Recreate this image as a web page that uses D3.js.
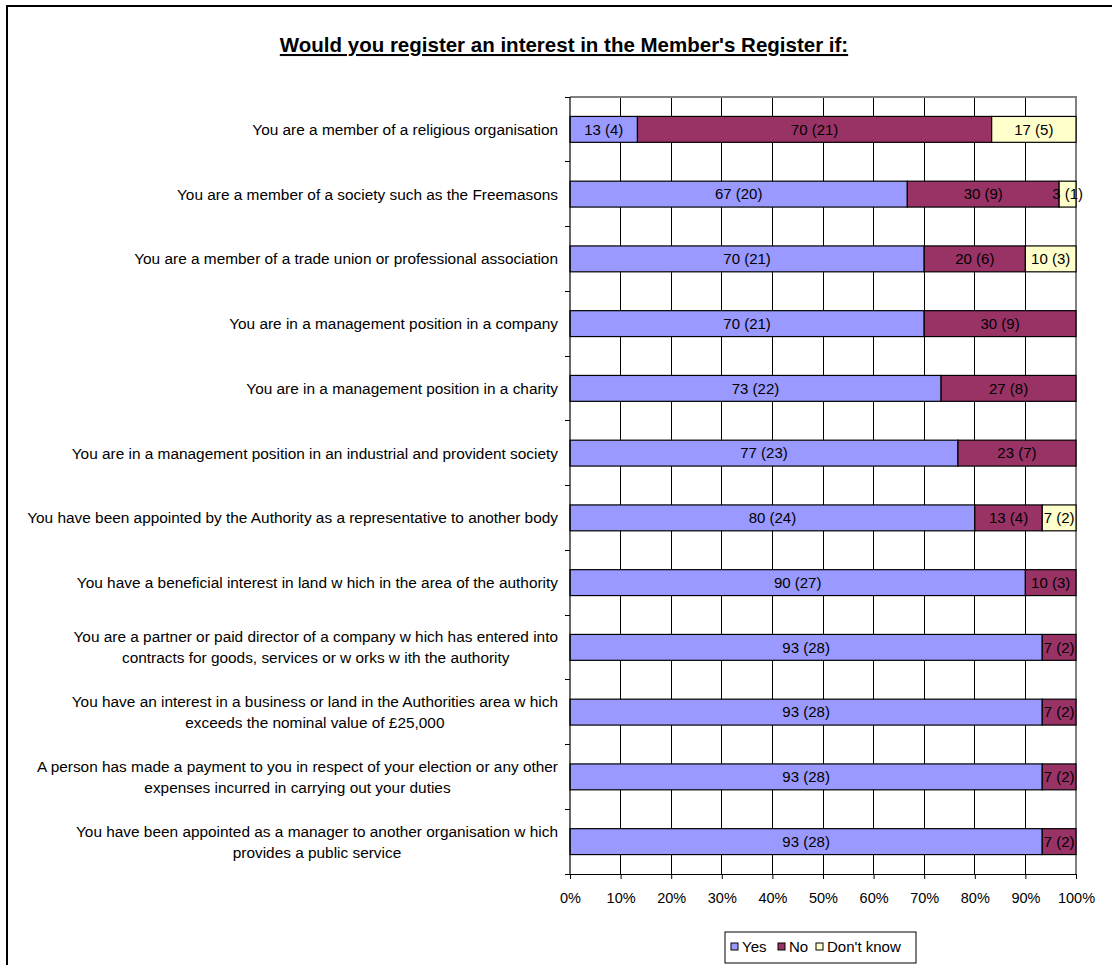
<!DOCTYPE html>
<html>
<head>
<meta charset="utf-8">
<script src="https://cdn.jsdelivr.net/npm/d3@7"></script>
<style>
  body { margin: 0; background: #fff; }
  svg { display: block; font-family: "Liberation Sans", Arial, sans-serif; }
</style>
</head>
<body>
<div id="chart"></div>
<script>
var categories = [
  ["You are a member of a religious organisation"],
  ["You are a member of a society such as the Freemasons"],
  ["You are a member of a trade union or professional association"],
  ["You are in a management position in a company"],
  ["You are in a management position in a charity"],
  ["You are in a management position in an industrial and provident society"],
  ["You have been appointed by the Authority as a representative to another body"],
  ["You have a beneficial interest in land w hich in the area of the authority"],
  ["You are a partner or paid director of a company w hich has entered into", "contracts for goods, services or w orks w ith the authority"],
  ["You have an interest in a business or land in the Authorities area w hich", "exceeds the nominal value of \u00a325,000"],
  ["A person has made a payment to you in respect of your election or any other", "expenses incurred in carrying out your duties"],
  ["You have been appointed as a manager to another organisation w hich", "provides a public service"]
];
// respondents (count) per answer
var yesCount = [4, 20, 21, 21, 22, 23, 24, 27, 28, 28, 28, 28];
var noCount  = [21, 9, 6, 9, 8, 7, 4, 3, 2, 2, 2, 2];
var dkCount  = [5, 1, 3, 0, 0, 0, 2, 0, 0, 0, 0, 0];
// percentages as labelled
var yesPct = [13, 67, 70, 70, 73, 77, 80, 90, 93, 93, 93, 93];
var noPct  = [70, 30, 20, 30, 27, 23, 13, 10, 7, 7, 7, 7];
var dkPct  = [17, 3, 10, 0, 0, 0, 7, 0, 0, 0, 0, 0];

var seriesNames = ["Yes", "No", "Don't know"];
var seriesColors = ["#9999ff", "#993366", "#ffffcc"];
var tickLabels = ["0%", "10%", "20%", "30%", "40%", "50%", "60%", "70%", "80%", "90%", "100%"];
var title = "Would you register an interest in the Member's Register if:";

var W = 1112, H = 965;
var plot = {left: 570, right: 1076, top: 97, bottom: 874};

var svg = d3.select("#chart").append("svg")
  .attr("width", W).attr("height", H);

// outer chart border (runs off the right and bottom edge)
svg.append("rect")
  .attr("x", 7).attr("y", 6)
  .attr("width", 1130).attr("height", 1000)
  .attr("fill", "none").attr("stroke", "#000").attr("stroke-width", 2);

svg.append("text")
  .attr("x", 564).attr("y", 52)
  .attr("text-anchor", "middle")
  .attr("font-size", 20.5).attr("font-weight", "bold")
  .attr("text-decoration", "underline")
  .text(title);

var x = d3.scaleLinear().domain([0, 1]).range([plot.left, plot.right]);
var y = d3.scaleBand()
  .domain(d3.range(categories.length))
  .range([plot.top, plot.bottom])
  .paddingInner(0.6).paddingOuter(0.3);

var tickVals = tickLabels.map(function(t) { return parseFloat(t) / 100; });

// vertical gridlines
svg.append("g").selectAll("line")
  .data(tickVals.slice(1, -1))
  .enter().append("line")
  .attr("x1", function(d) { return x(d); }).attr("x2", function(d) { return x(d); })
  .attr("y1", plot.top).attr("y2", plot.bottom)
  .attr("stroke", "#000").attr("stroke-width", 1)
  .attr("shape-rendering", "crispEdges");

// plot border top / right
svg.append("path")
  .attr("d", "M" + plot.left + "," + plot.top + "H" + plot.right + "V" + plot.bottom)
  .attr("fill", "none").attr("stroke", "#808080").attr("stroke-width", 1.5)
  .attr("shape-rendering", "crispEdges");

// stacked bars
var rows = categories.map(function(c, i) {
  var total = yesCount[i] + noCount[i] + dkCount[i];
  var counts = [yesCount[i], noCount[i], dkCount[i]];
  var pcts = [yesPct[i], noPct[i], dkPct[i]];
  var acc = 0;
  return counts.map(function(v, s) {
    var seg = {row: i, s: s, x0: acc / total, x1: (acc + v) / total, count: v, pct: pcts[s]};
    acc += v;
    return seg;
  }).filter(function(d) { return d.count > 0; });
});
var segs = [].concat.apply([], rows);

var bars = svg.append("g");
bars.selectAll("rect").data(segs).enter().append("rect")
  .attr("x", function(d) { return x(d.x0); })
  .attr("width", function(d) { return x(d.x1) - x(d.x0); })
  .attr("y", function(d) { return y(d.row); })
  .attr("height", y.bandwidth())
  .attr("fill", function(d) { return seriesColors[d.s]; })
  .attr("stroke", "#000").attr("stroke-width", 1.2);

bars.selectAll("text").data(segs).enter().append("text")
  .attr("x", function(d) { return (x(d.x0) + x(d.x1)) / 2; })
  .attr("y", function(d) { return y(d.row) + y.bandwidth() / 2; })
  .attr("dy", "0.35em")
  .attr("text-anchor", "middle")
  .attr("font-size", 15).attr("fill", "#000")
  .text(function(d) { return d.pct + " (" + d.count + ")"; });

// left axis
svg.append("line")
  .attr("x1", plot.left).attr("x2", plot.left)
  .attr("y1", plot.top).attr("y2", plot.bottom)
  .attr("stroke", "#000").attr("stroke-width", 1.2);
var bounds = d3.range(categories.length + 1).map(function(i) { return plot.top + i * y.step(); });
svg.append("g").selectAll("line").data(bounds).enter().append("line")
  .attr("x1", plot.left - 5).attr("x2", plot.left)
  .attr("y1", function(d) { return d; }).attr("y2", function(d) { return d; })
  .attr("stroke", "#000").attr("stroke-width", 1)
  .attr("shape-rendering", "crispEdges");

// bottom axis
var xAxis = d3.axisBottom(x)
  .tickValues(tickVals)
  .tickFormat(function(d, i) { return tickLabels[i]; })
  .tickSize(5).tickSizeOuter(0).tickPadding(14);
var gx = svg.append("g")
  .attr("transform", "translate(0," + plot.bottom + ")")
  .call(xAxis);
gx.select(".domain").attr("stroke", "#000").attr("stroke-width", 1.2);
gx.selectAll(".tick line").attr("stroke", "#000");
gx.selectAll(".tick text")
  .attr("font-size", 14.5).attr("font-family", "Liberation Sans, Arial, sans-serif")
  .attr("fill", "#000");

// category labels
var labelRight = 558;
var lineGap = 21;
var cat = svg.append("g").attr("font-size", 15.4).attr("fill", "#000");
categories.forEach(function(lines, i) {
  var cy = y(i) + y.bandwidth() / 2;
  var g = cat.append("g");
  var texts = lines.map(function(l, k) {
    return g.append("text")
      .attr("y", cy + (k - (lines.length - 1) / 2) * lineGap)
      .attr("dy", "0.35em")
      .attr("text-anchor", "middle")
      .text(l);
  });
  var maxW = d3.max(texts, function(t) { return t.node().getComputedTextLength(); });
  texts.forEach(function(t) { t.attr("x", labelRight - maxW / 2); });
});

// legend
var lg = svg.append("g");
lg.append("rect")
  .attr("x", 725).attr("y", 932).attr("width", 191).attr("height", 31)
  .attr("fill", "#fff").attr("stroke", "#000").attr("stroke-width", 1);
var legendX = [731, 778, 816];
seriesNames.forEach(function(n, i) {
  lg.append("rect")
    .attr("x", legendX[i]).attr("y", 943).attr("width", 7).attr("height", 7)
    .attr("fill", seriesColors[i]).attr("stroke", "#000").attr("stroke-width", 1);
  lg.append("text")
    .attr("x", legendX[i] + 11).attr("y", 947).attr("dy", "0.35em")
    .attr("font-size", 15).text(n);
});
</script>
</body>
</html>
